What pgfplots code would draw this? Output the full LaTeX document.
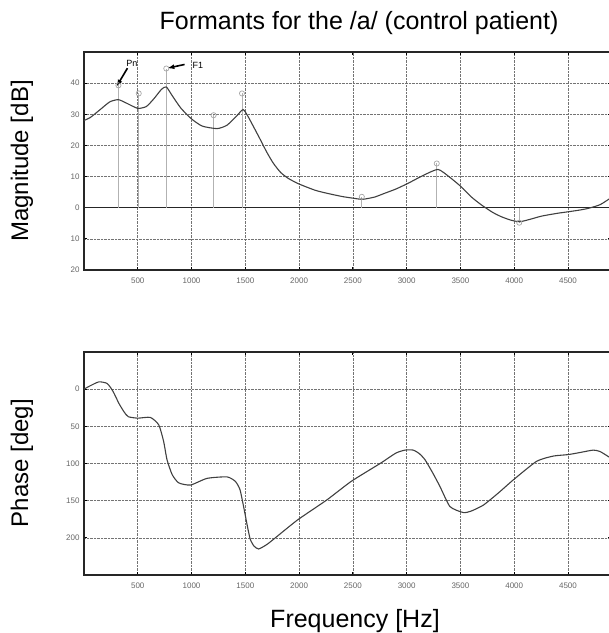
\documentclass[border=0pt]{standalone}
\usepackage{pgfplots}
\pgfplotsset{compat=1.18}
\usepackage{fontspec}
\setmainfont{Liberation Sans}
\usetikzlibrary{arrows.meta}

% Magnitude response of the vocal-tract model (Hz, dB)
\pgfplotstableread{
f     mag
0     28.0
60    29.0
150   31.5
240   34.0
320   34.7
400   33.5
500   31.9
580   32.5
650   35.0
720   38.0
765   38.8
820   36.0
900   32.0
1000  28.5
1100  26.2
1238  25.4
1330  26.5
1420  29.5
1480  31.5
1530  29.0
1642  21.7
1700  17.8
1760  14.3
1829  11.3
1900  9.4
2000  7.6
2150  5.6
2264  4.6
2400  3.6
2513  3.0
2591  2.7
2700  3.4
2793  4.6
2900  6.0
3011  7.8
3150  10.3
3291  12.3
3400  9.8
3508  6.7
3600  3.5
3695  0.9
3800  -1.5
3881  -2.9
3970  -4.0
4052  -4.5
4150  -3.7
4254  -2.7
4400  -1.8
4503  -1.3
4600  -0.8
4690  -0.2
4800  1.0
4900  3.2
}\magdata

% Formant / anti-formant markers (Hz, dB)
\pgfplotstableread{
f     val
320   39.3
509   36.7
765   44.7
1205  29.7
1469  36.7
2583  3.5
3280  14.2
4047  -4.8
}\formants

% Phase response (Hz, deg)
\pgfplotstableread{
f     ph
0     0
50    4
138   9.8
216   7.6
270   -3
324   -19
370   -30
411   -37
500   -39
617   -38
695   -48
740   -70
772   -95
820   -115
880   -126
990   -129
1144  -120
1330  -118
1407  -124
1450  -135
1484  -158
1520  -185
1546  -202
1580  -211
1624  -215
1700  -209
1762  -202
1985  -176
2258  -149
2485  -124
2753  -100
2900  -86
2985  -82
3062  -82
3120  -87
3171  -95
3240  -112
3310  -131
3403  -158
3527  -166
3600  -164
3713  -156
3850  -140
3992  -122
4209  -97
4364  -90
4503  -88
4620  -85
4735  -82
4800  -84
4900  -93
}\phasedata

\pgfplotsset{
  specaxis/.style={
    scale only axis,
    width=527pt,
    xmin=0, xmax=4900,
    xtick={500,1000,...,4500},
    grid=major,
    major grid style={densely dotted, black!55, line width=0.6pt},
    axis line style={line width=1.4pt, black!85},
    tick style={black, line width=0.8pt},
    tick align=inside,
    major tick length=3pt,
    /pgf/number format/assume math mode=true,
    /pgf/number format/1000 sep={},
    ticklabel style={font=\fontsize{8}{9}\selectfont, text=black!60},
    xticklabel style={yshift=-4pt},
    yticklabel style={xshift=-1pt},
    clip=false,
  },
  curve/.style={black!75, line width=1.1pt, smooth, tension=0.35},
}

\begin{document}
\begin{tikzpicture}
\useasboundingbox (0,0) rectangle (609pt,633pt);

% Magnitude
\begin{axis}[specaxis,
  at={(84pt,363pt)}, anchor=south west,
  height=218pt,
  ymin=-20, ymax=50,
  ytick={-20,-10,0,10,20,30,40},
  yticklabels={20,10,0,10,20,30,40},
]
\draw[black!85, line width=1.4pt] (axis cs:0,0) -- (axis cs:4900,0);
\addplot[ycomb, black!30, line width=0.8pt, mark=o, mark size=2.6pt,
  mark options={black!35, line width=0.7pt}] table[x=f, y=val] {\formants};
\addplot[curve] table[x=f, y=mag] {\magdata};
\draw[-{Latex[length=7pt,width=5pt]}, line width=1.6pt, black]
  (axis cs:404,44.8) -- (axis cs:302,38.9);
\node[anchor=west, font=\fontsize{9}{10}\selectfont, inner sep=0pt]
  at (axis cs:392,46.5) {Pn};
\draw[-{Latex[length=7pt,width=5pt]}, line width=1.6pt, black]
  (axis cs:935,46) -- (axis cs:775,44.8);
\node[anchor=west, font=\fontsize{9}{10}\selectfont, inner sep=0pt]
  at (axis cs:1007,45.7) {F1};
\end{axis}

% Phase
\begin{axis}[specaxis,
  at={(84pt,58pt)}, anchor=south west,
  height=223pt,
  ymin=-250, ymax=50,
  ytick={-200,-150,-100,-50,0},
  yticklabels={200,150,100,50,0},
]
\addplot[curve] table[x=f, y=ph] {\phasedata};
\end{axis}

\node[font=\fontsize{25}{28}\selectfont] at (359pt,609.5pt)
  {Formants for the /a/ (control patient)};
\node[rotate=90, font=\fontsize{24}{27}\selectfont] at (22pt,472pt)
  {Magnitude [dB]};
\node[rotate=90, font=\fontsize{24}{27}\selectfont] at (22pt,170pt)
  {Phase [deg]};
\node[font=\fontsize{25}{28}\selectfont] at (355pt,12pt)
  {Frequency [Hz]};
\end{tikzpicture}
\end{document}
